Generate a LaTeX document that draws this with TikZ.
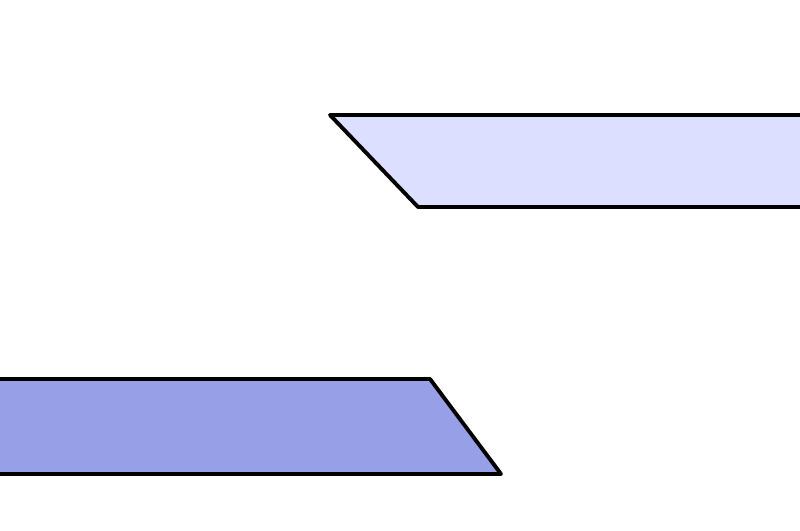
\documentclass[tikz,border=0pt]{standalone}
\usepackage{tikz}
\definecolor{lightband}{RGB}{220,223,255}
\definecolor{darkband}{RGB}{151,159,230}
\tikzset{band/.style={draw=black,line width=2.2pt,line join=round}}

\begin{document}
\begin{tikzpicture}[x=0.02cm,y=-0.02cm] %pixel units
\useasboundingbox (0,0) rectangle (800,530);
\clip (0,0) rectangle (800,530);
% upper band
\filldraw[band,fill=lightband] (830,115) -- (330,115) -- (418,207) -- (830,207);
% lower band
\filldraw[band,fill=darkband] (-30,379) -- (430,379) -- (501,474) -- (-30,474);
\end{tikzpicture}
\end{document}
